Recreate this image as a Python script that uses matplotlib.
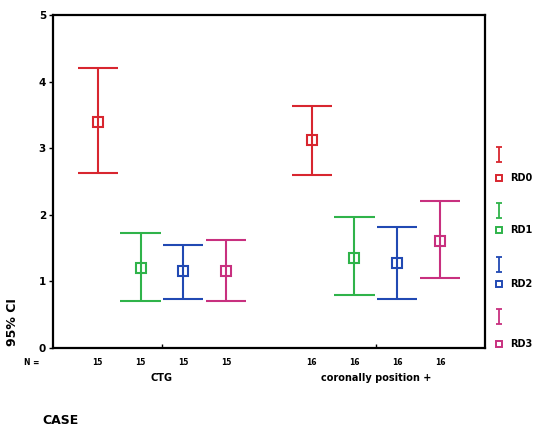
import matplotlib
matplotlib.use("Agg")
import matplotlib.pyplot as plt
import matplotlib.transforms as mtransforms

# data
groups = ["CTG", "coronally position +"]
series = ["RD0", "RD1", "RD2", "RD3"]
colors = ["#d8262f", "#2fb34a", "#2149b3", "#c8307f"]
n_ctg = [15, 15, 15, 15]
n_cor = [16, 16, 16, 16]
mean_ctg = [3.40, 1.20, 1.15, 1.15]
low_ctg = [2.62, 0.71, 0.73, 0.70]
high_ctg = [4.20, 1.72, 1.55, 1.62]
mean_cor = [3.12, 1.35, 1.28, 1.60]
low_cor = [2.60, 0.79, 0.73, 1.05]
high_cor = [3.63, 1.97, 1.82, 2.20]

fig = plt.figure(figsize=(5.51, 4.30), dpi=100)
ax = fig.add_axes([0.096, 0.191, 0.784, 0.774])

pos_ctg = [1, 2, 3, 4]
pos_cor = [6, 7, 8, 9]
cap = 0.47

for pos, mean, lo, hi, ns in [(pos_ctg, mean_ctg, low_ctg, high_ctg, n_ctg),
                              (pos_cor, mean_cor, low_cor, high_cor, n_cor)]:
    for x, m, l, h, c in zip(pos, mean, lo, hi, colors):
        ax.vlines(x, l, h, color=c, lw=1.5)
        ax.hlines([l, h], x - cap, x + cap, color=c, lw=1.5)
        ax.plot(x, m, marker="s", ms=6.5, mfc="none", mec=c, mew=1.5)

ax.set_xlim(-0.05, 10.05)
ax.set_ylim(0, 5)
ax.set_yticks([0, 1, 2, 3, 4, 5])
ax.set_yticklabels(["0", "1", "2", "3", "4", "5"], fontsize=7.5, fontweight="bold")
ax.tick_params(axis="y", length=3, width=1, pad=2)
ax.set_xticks([2.5, 7.5])
ax.set_xticklabels([])
ax.tick_params(axis="x", length=3, width=1, direction="in")
for s in ax.spines.values():
    s.set_linewidth(1.6)

# N row and group labels
trans = mtransforms.blended_transform_factory(ax.transData, ax.transAxes)
ax.text(-0.55, -0.045, "N =", transform=trans, fontsize=5.5, fontweight="bold",
        ha="center", va="center")
for pos, ns in [(pos_ctg, n_ctg), (pos_cor, n_cor)]:
    for x, n in zip(pos, ns):
        ax.text(x, -0.045, str(n), transform=trans, fontsize=5.5,
                fontweight="bold", ha="center", va="center")
for x, g in zip([2.5, 7.5], groups):
    ax.text(x, -0.092, g, transform=trans, fontsize=7, fontweight="bold",
            ha="center", va="center")

fig.text(0.022, 0.25, "95% CI", rotation=90, fontsize=9, fontweight="bold",
         ha="center", va="center")
fig.text(0.076, 0.023, "CASE", fontsize=9, fontweight="bold", ha="left", va="center")

# legend
leg = fig.add_axes([0.89, 0.18, 0.11, 0.5])
leg.set_xlim(0, 1)
leg.set_ylim(0, 1)
leg.axis("off")
ybeam = [0.92, 0.66, 0.41, 0.17]
ysq = [0.81, 0.57, 0.32, 0.04]
for yb, ys, c, s in zip(ybeam, ysq, colors, series):
    leg.vlines(0.14, yb - 0.035, yb + 0.035, color=c, lw=1.3)
    leg.hlines([yb - 0.035, yb + 0.035], 0.09, 0.19, color=c, lw=1.3)
    leg.plot(0.14, ys, marker="s", ms=5, mfc="none", mec=c, mew=1.4)
    leg.text(0.32, ys, s, fontsize=7, fontweight="bold", va="center", ha="left")

fig.savefig("out.png", dpi=100)
